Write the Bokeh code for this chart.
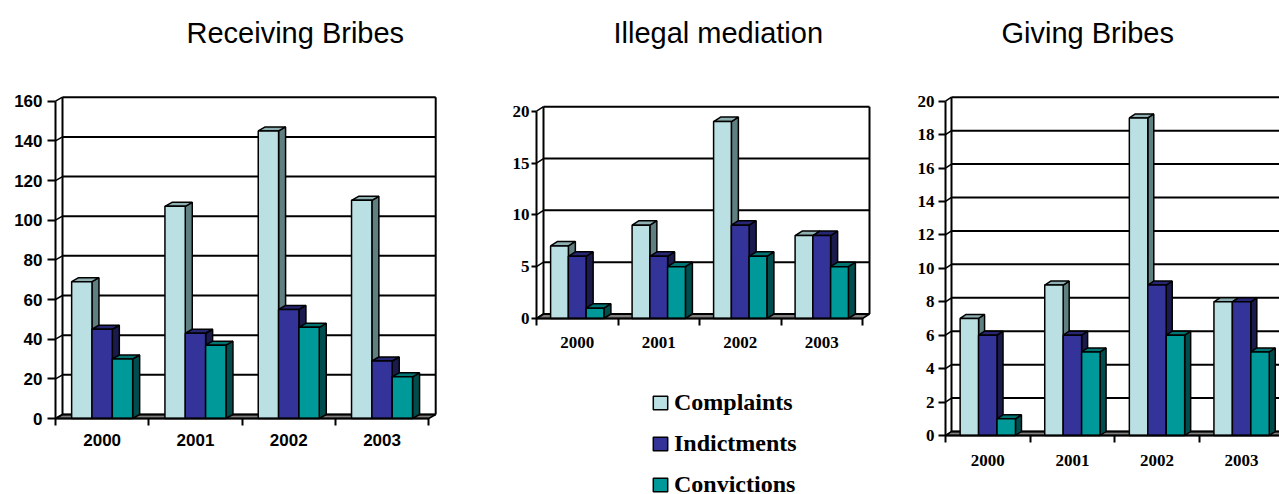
from bokeh.plotting import figure
from bokeh.models import Range1d, FixedTicker, Legend, LegendItem
from bokeh.layouts import row
from bokeh.embed import file_html
from bokeh.resources import INLINE

# ---------------- data ----------------
years = ["2000", "2001", "2002", "2003"]
series_names = ["Complaints", "Indictments", "Convictions"]

rb_complaints = [69, 107, 145, 110]
rb_indictments = [45, 43, 55, 29]
rb_convictions = [30, 37, 46, 21]
rb_ticks = [0, 20, 40, 60, 80, 100, 120, 140, 160]

im_complaints = [7, 9, 19, 8]
im_indictments = [6, 6, 9, 8]
im_convictions = [1, 5, 6, 5]
im_ticks = [0, 5, 10, 15, 20]

gb_complaints = [7, 9, 19, 8]
gb_indictments = [6, 6, 9, 8]
gb_convictions = [1, 5, 6, 5]
gb_ticks = [0, 2, 4, 6, 8, 10, 12, 14, 16, 18, 20]

# ---------------- style ----------------
FRONT = ["#BBE0E3", "#333399", "#009999"]
SIDE = ["#5F7F80", "#1A1A4D", "#004D4D"]
TOP = ["#8EB0B2", "#262673", "#007373"]
FLOOR = "#808080"
BAR_W = 0.218
FIG_H = 494
BORDER_TOP = 53
FRAME_TOP = BORDER_TOP      # page y of frame top
FRAME_BOT = FIG_H           # page y of frame bottom


def chart(title, series, ticks, *, fig_left, width, axis_px, zero_px, cat_px,
          unit_px, dx_px, dy_px, tick_font, tick_size, title_left,
          ytick_out, ylab_standoff, xlab_standoff):
    x0 = -(axis_px - fig_left) / cat_px
    x1 = (fig_left + width - axis_px) / cat_px
    y0 = -(FRAME_BOT - zero_px) / unit_px
    y1 = (zero_px - FRAME_TOP) / unit_px
    p = figure(width=width, height=FIG_H,
               x_range=Range1d(x0, x1), y_range=Range1d(y0, y1),
               output_backend="svg", toolbar_location=None,
               min_border_left=0, min_border_right=0,
               min_border_top=BORDER_TOP, min_border_bottom=0)
    p.outline_line_color = None
    p.grid.visible = False
    p.background_fill_color = "white"
    p.border_fill_color = "white"

    p.title.text = title
    p.title.align = "left"
    p.title.offset = title_left - fig_left
    p.title.standoff = 10
    p.title.text_font = "Liberation Sans"
    p.title.text_font_size = "29px"
    p.title.text_font_style = "normal"
    p.title.text_color = "black"

    ddx = dx_px / cat_px
    ddy = dy_px / unit_px
    n = len(years)
    xw = n + ddx
    top_v = ticks[-1]

    # floor
    p.patch([0, xw - ddx, xw, ddx], [0, 0, ddy, ddy],
            fill_color=FLOOR, line_color="black", line_width=1.5)
    # back wall grid lines and side wall diagonals
    p.segment([ddx] * len(ticks), [t + ddy for t in ticks],
              [xw] * len(ticks), [t + ddy for t in ticks],
              line_color="black", line_width=2)
    p.segment([0] * len(ticks), ticks, [ddx] * len(ticks),
              [t + ddy for t in ticks], line_color="black", line_width=1.5)
    p.segment([ddx, xw], [ddy, ddy], [ddx, xw], [top_v + ddy, top_v + ddy],
              line_color="black", line_width=2)

    fronts = []
    for i, vals in enumerate(series):
        lefts = [k + 0.5 - 1.5 * BAR_W + i * BAR_W for k in range(n)]
        rights = [l + BAR_W for l in lefts]
        side_xs = [[r, r + ddx, r + ddx, r] for r in rights]
        side_ys = [[0, ddy, v + ddy, v] for v in vals]
        top_xs = [[l, l + ddx, r + ddx, r] for l, r in zip(lefts, rights)]
        top_ys = [[v, v + ddy, v + ddy, v] for v in vals]
        p.patches(side_xs, side_ys, fill_color=SIDE[i], line_color="black",
                  line_width=1.5)
        p.patches(top_xs, top_ys, fill_color=TOP[i], line_color="black",
                  line_width=1.5)
        fr = p.quad(left=lefts, right=rights, bottom=[0] * n, top=vals,
                    fill_color=FRONT[i], line_color="black", line_width=1.5)
        fronts.append(fr)

    # front axis lines
    p.segment([0, 0], [0, 0], [0, n], [top_v, 0], line_color="black",
              line_width=2)

    # axes (fixed at the front edges)
    xa = p.xaxis[0]
    xa.fixed_location = 0
    xa.ticker = FixedTicker(ticks=[k + 0.5 for k in range(n)],
                            minor_ticks=list(range(n + 1)))
    xa.major_label_overrides = {k + 0.5: y for k, y in enumerate(years)}
    xa.major_tick_out = 0
    xa.major_tick_in = 0
    xa.minor_tick_out = 7
    xa.minor_tick_in = 0
    xa.minor_tick_line_color = "black"
    xa.minor_tick_line_width = 2
    xa.axis_line_color = None
    xa.major_label_standoff = xlab_standoff
    xa.major_label_text_font = tick_font
    xa.major_label_text_font_size = tick_size
    xa.major_label_text_font_style = "bold"
    xa.major_label_text_color = "black"

    ya = p.yaxis[0]
    ya.fixed_location = 0
    ya.ticker = FixedTicker(ticks=ticks)
    ya.major_tick_out = ytick_out
    ya.major_tick_in = 0
    ya.major_tick_line_width = 2
    ya.major_tick_line_color = "black"
    ya.minor_tick_line_color = None
    ya.axis_line_color = None
    ya.major_label_standoff = ylab_standoff
    ya.major_label_text_font = tick_font
    ya.major_label_text_font_size = tick_size
    ya.major_label_text_font_style = "bold"
    ya.major_label_text_color = "black"
    return p, fronts


p1, _ = chart("Receiving Bribes", [rb_complaints, rb_indictments, rb_convictions],
              rb_ticks, fig_left=0, width=478, axis_px=55, zero_px=418,
              cat_px=93.3, unit_px=1.983, dx_px=7, dy_px=4,
              tick_font="Liberation Sans", tick_size="17px", title_left=186,
              ytick_out=8, ylab_standoff=5, xlab_standoff=8)

p2, fronts2 = chart("Illegal mediation", [im_complaints, im_indictments, im_convictions],
                    im_ticks, fig_left=478, width=417, axis_px=536, zero_px=318,
                    cat_px=81.5, unit_px=10.365, dx_px=7, dy_px=4.5,
                    tick_font="Liberation Serif", tick_size="17px", title_left=613,
                    ytick_out=5, ylab_standoff=2, xlab_standoff=11)

p3, _ = chart("Giving Bribes", [gb_complaints, gb_indictments, gb_convictions],
              gb_ticks, fig_left=895, width=384, axis_px=945, zero_px=435,
              cat_px=84.6, unit_px=16.715, dx_px=6, dy_px=4,
              tick_font="Liberation Serif", tick_size="17px", title_left=1001,
              ytick_out=7, ylab_standoff=4, xlab_standoff=12)

legend = Legend(items=[LegendItem(label=name, renderers=[r])
                       for name, r in zip(series_names, fronts2)],
                location=(173, -4))
legend.glyph_width = 18
legend.glyph_height = 17
legend.label_height = 27
legend.spacing = 14
legend.label_standoff = 5
legend.padding = 0
legend.margin = 0
legend.border_line_color = None
legend.background_fill_alpha = 0
legend.label_text_font = "Liberation Serif"
legend.label_text_font_style = "bold"
legend.label_text_font_size = "24px"
legend.label_text_color = "black"
p2.add_layout(legend)

layout = row(p1, p2, p3, spacing=0)
open("out.html", "w").write(file_html(layout, INLINE))
